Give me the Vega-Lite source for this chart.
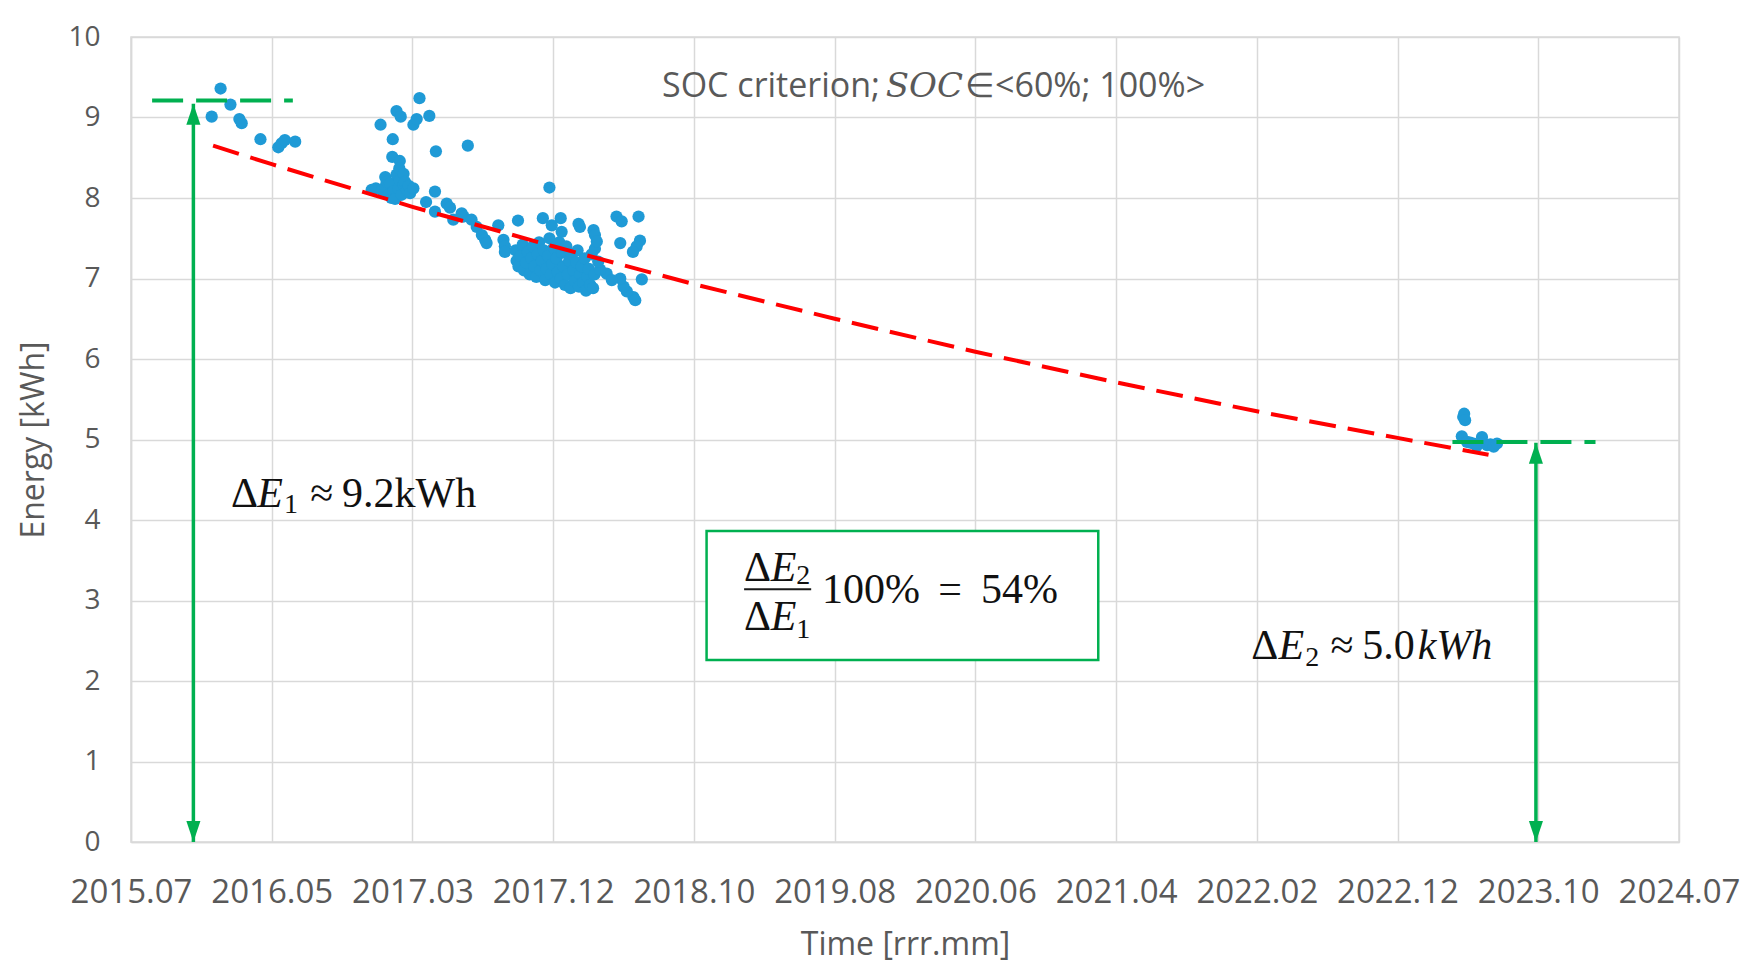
{
  "$schema": "https://vega.github.io/schema/vega-lite/v6.json",
  "width": 1548,
  "height": 805,
  "autosize": "none",
  "padding": {"left": 131, "top": 37, "right": 79, "bottom": 134},
  "background": "white",
  "config": {
    "font": "Open Sans",
    "view": {"stroke": "#d9d9d9", "strokeWidth": 1.5}
  },
  "datasets": {
    "measurements": [
      {"date": "2016-01-03", "energy": 9.01}, {"date": "2016-01-22", "energy": 9.36}, {"date": "2016-02-12", "energy": 9.16},
      {"date": "2016-03-02", "energy": 8.98}, {"date": "2016-03-07", "energy": 8.93}, {"date": "2016-04-16", "energy": 8.73},
      {"date": "2016-05-24", "energy": 8.63}, {"date": "2016-05-31", "energy": 8.68}, {"date": "2016-06-07", "energy": 8.72},
      {"date": "2016-06-29", "energy": 8.70},
      {"date": "2016-12-28", "energy": 8.91}, {"date": "2017-01-22", "energy": 8.51}, {"date": "2017-01-23", "energy": 8.73},
      {"date": "2017-01-31", "energy": 9.08}, {"date": "2017-02-07", "energy": 8.46}, {"date": "2017-02-09", "energy": 9.01},
      {"date": "2017-03-08", "energy": 8.91}, {"date": "2017-03-15", "energy": 8.98}, {"date": "2017-03-21", "energy": 9.24},
      {"date": "2017-04-11", "energy": 9.02}, {"date": "2017-04-25", "energy": 8.58}, {"date": "2017-07-02", "energy": 8.65},
      {"date": "2016-12-09", "energy": 8.10}, {"date": "2016-12-18", "energy": 8.12}, {"date": "2016-12-31", "energy": 8.10},
      {"date": "2017-01-07", "energy": 8.26}, {"date": "2017-01-07", "energy": 8.14}, {"date": "2017-01-10", "energy": 8.20},
      {"date": "2017-01-14", "energy": 8.04}, {"date": "2017-01-17", "energy": 8.18}, {"date": "2017-01-20", "energy": 8.00},
      {"date": "2017-01-24", "energy": 8.08}, {"date": "2017-01-28", "energy": 7.99}, {"date": "2017-01-31", "energy": 8.29},
      {"date": "2017-02-04", "energy": 8.12}, {"date": "2017-02-06", "energy": 8.37}, {"date": "2017-02-07", "energy": 8.22},
      {"date": "2017-02-11", "energy": 8.04}, {"date": "2017-02-15", "energy": 8.16}, {"date": "2017-02-15", "energy": 8.30},
      {"date": "2017-02-18", "energy": 8.20}, {"date": "2017-02-22", "energy": 8.10}, {"date": "2017-02-26", "energy": 8.15},
      {"date": "2017-03-01", "energy": 8.06}, {"date": "2017-03-08", "energy": 8.12},
      {"date": "2017-04-04", "energy": 7.95}, {"date": "2017-04-23", "energy": 8.08}, {"date": "2017-04-23", "energy": 7.83},
      {"date": "2017-05-18", "energy": 7.93}, {"date": "2017-05-25", "energy": 7.88}, {"date": "2017-06-01", "energy": 7.73},
      {"date": "2017-06-19", "energy": 7.81}, {"date": "2017-06-23", "energy": 7.77}, {"date": "2017-07-10", "energy": 7.73},
      {"date": "2017-07-21", "energy": 7.64}, {"date": "2017-08-01", "energy": 7.54}, {"date": "2017-08-08", "energy": 7.48},
      {"date": "2017-08-11", "energy": 7.44}, {"date": "2017-09-05", "energy": 7.66}, {"date": "2017-09-16", "energy": 7.48},
      {"date": "2017-09-19", "energy": 7.40}, {"date": "2017-09-19", "energy": 7.33}, {"date": "2017-10-17", "energy": 7.72},
      {"date": "2017-10-12", "energy": 7.35}, {"date": "2017-10-14", "energy": 7.22}, {"date": "2017-10-18", "energy": 7.15},
      {"date": "2017-10-22", "energy": 7.28}, {"date": "2017-10-27", "energy": 7.42}, {"date": "2017-10-30", "energy": 7.10},
      {"date": "2017-11-03", "energy": 7.20}, {"date": "2017-11-07", "energy": 7.33}, {"date": "2017-11-11", "energy": 7.05},
      {"date": "2017-11-14", "energy": 7.25}, {"date": "2017-11-18", "energy": 7.40}, {"date": "2017-11-21", "energy": 7.15},
      {"date": "2017-11-25", "energy": 7.02}, {"date": "2017-11-28", "energy": 7.30}, {"date": "2017-12-01", "energy": 7.45},
      {"date": "2017-12-04", "energy": 7.10}, {"date": "2017-12-07", "energy": 7.22}, {"date": "2017-12-11", "energy": 7.35},
      {"date": "2017-12-14", "energy": 6.98}, {"date": "2017-12-17", "energy": 7.12}, {"date": "2017-12-20", "energy": 7.28},
      {"date": "2017-12-23", "energy": 7.50}, {"date": "2017-12-26", "energy": 7.05}, {"date": "2017-12-29", "energy": 7.18},
      {"date": "2018-01-01", "energy": 7.38}, {"date": "2018-01-04", "energy": 6.95}, {"date": "2018-01-07", "energy": 7.25},
      {"date": "2018-01-10", "energy": 7.08}, {"date": "2018-01-13", "energy": 7.45}, {"date": "2018-01-16", "energy": 7.00},
      {"date": "2018-01-19", "energy": 7.32}, {"date": "2018-01-22", "energy": 7.15}, {"date": "2018-01-25", "energy": 6.92},
      {"date": "2018-01-28", "energy": 7.40}, {"date": "2018-01-31", "energy": 7.05}, {"date": "2018-02-03", "energy": 7.22},
      {"date": "2018-02-06", "energy": 6.88}, {"date": "2018-02-09", "energy": 7.30}, {"date": "2018-02-12", "energy": 7.10},
      {"date": "2018-02-15", "energy": 6.97}, {"date": "2018-02-18", "energy": 7.20}, {"date": "2018-02-21", "energy": 7.35},
      {"date": "2018-02-24", "energy": 6.90}, {"date": "2018-02-27", "energy": 7.05}, {"date": "2018-03-02", "energy": 7.15},
      {"date": "2018-03-05", "energy": 6.95}, {"date": "2018-03-08", "energy": 7.25}, {"date": "2018-03-11", "energy": 6.85},
      {"date": "2018-03-14", "energy": 7.02}, {"date": "2018-03-17", "energy": 7.12}, {"date": "2018-03-20", "energy": 6.92},
      {"date": "2018-03-23", "energy": 7.30}, {"date": "2018-03-26", "energy": 6.88}, {"date": "2018-03-29", "energy": 7.05},
      {"date": "2017-12-09", "energy": 7.75}, {"date": "2018-01-16", "energy": 7.75}, {"date": "2017-12-28", "energy": 7.66},
      {"date": "2018-01-18", "energy": 7.58}, {"date": "2018-02-23", "energy": 7.68}, {"date": "2018-02-26", "energy": 7.64},
      {"date": "2018-03-27", "energy": 7.60}, {"date": "2018-03-30", "energy": 7.54}, {"date": "2018-05-15", "energy": 7.77},
      {"date": "2018-05-26", "energy": 7.71}, {"date": "2018-07-01", "energy": 7.77}, {"date": "2018-05-23", "energy": 7.44},
      {"date": "2018-07-04", "energy": 7.47}, {"date": "2018-06-27", "energy": 7.40}, {"date": "2018-06-19", "energy": 7.33},
      {"date": "2018-07-08", "energy": 6.99}, {"date": "2018-06-20", "energy": 6.77}, {"date": "2018-06-24", "energy": 6.73},
      {"date": "2018-06-06", "energy": 6.84}, {"date": "2018-05-30", "energy": 6.90}, {"date": "2018-05-23", "energy": 7.00},
      {"date": "2018-04-24", "energy": 7.06}, {"date": "2018-05-05", "energy": 6.98}, {"date": "2018-04-10", "energy": 7.11},
      {"date": "2018-04-06", "energy": 7.21}, {"date": "2018-03-30", "energy": 7.37}, {"date": "2018-04-03", "energy": 7.46},
      {"date": "2017-12-23", "energy": 8.13},
      {"date": "2023-04-21", "energy": 5.04}, {"date": "2023-04-24", "energy": 5.28}, {"date": "2023-04-26", "energy": 5.32},
      {"date": "2023-04-28", "energy": 5.24}, {"date": "2023-05-02", "energy": 4.97}, {"date": "2023-05-09", "energy": 4.96},
      {"date": "2023-05-16", "energy": 4.95}, {"date": "2023-05-23", "energy": 4.92}, {"date": "2023-06-03", "energy": 5.03},
      {"date": "2023-06-14", "energy": 4.93}, {"date": "2023-06-21", "energy": 4.94}, {"date": "2023-06-28", "energy": 4.91},
      {"date": "2023-07-05", "energy": 4.95}
    ],
    "trend": [
      {"date": "2016-01-06", "energy": 8.65}, {"date": "2016-05-10", "energy": 8.42}, {"date": "2017-03-06", "energy": 7.89},
      {"date": "2017-12-31", "energy": 7.40}, {"date": "2018-10-27", "energy": 6.93}, {"date": "2019-08-23", "energy": 6.50},
      {"date": "2020-06-18", "energy": 6.09}, {"date": "2021-04-14", "energy": 5.71}, {"date": "2022-02-08", "energy": 5.35},
      {"date": "2022-12-05", "energy": 5.02}, {"date": "2023-06-17", "energy": 4.81}
    ],
    "levels": [
      {"start": "2015-08-29", "end": "2016-06-24", "energy": 9.21},
      {"start": "2023-04-01", "end": "2024-01-31", "energy": 4.97}
    ],
    "arrows": [
      {"date": "2015-11-25", "from": 0, "to": 9.17},
      {"date": "2023-09-26", "from": 0, "to": 4.96}
    ],
    "box": [
      {"start": "2018-11-23", "end": "2021-03-07", "top": 3.863, "bottom": 2.261}
    ],
    "fraction": [
      {"start": "2019-02-11", "end": "2019-07-04", "energy": 3.139}
    ],
    "notes": [
      {"part": "caption", "text": "SOC criterion;", "date": "2018-08-20", "energy": 9.25},
      {"part": "captionItalic", "text": "SOC", "date": "2019-12-10", "energy": 9.25},
      {"part": "caption", "text": "∈<60%; 100%>", "date": "2020-05-27", "energy": 9.25},
      {"part": "math", "text": "Δ", "date": "2016-02-13", "energy": 4.165},
      {"part": "mathItalic", "text": "E", "date": "2016-04-09", "energy": 4.165},
      {"part": "sub", "text": "1", "date": "2016-06-05", "energy": 4.087},
      {"part": "math", "text": "≈", "date": "2016-07-31", "energy": 4.165},
      {"part": "math", "text": "9.2kWh", "date": "2016-10-07", "energy": 4.165},
      {"part": "math", "text": "Δ", "date": "2022-01-27", "energy": 2.277},
      {"part": "mathItalic", "text": "E", "date": "2022-03-26", "energy": 2.277},
      {"part": "sub", "text": "2", "date": "2022-05-22", "energy": 2.19},
      {"part": "math", "text": "≈", "date": "2022-07-15", "energy": 2.277},
      {"part": "math", "text": "5.0", "date": "2022-09-21", "energy": 2.277},
      {"part": "mathItalic", "text": "kWh", "date": "2023-01-17", "energy": 2.277},
      {"part": "math", "text": "Δ", "date": "2019-02-11", "energy": 3.242},
      {"part": "mathItalic", "text": "E", "date": "2019-04-09", "energy": 3.242},
      {"part": "sub", "text": "2", "date": "2019-06-02", "energy": 3.21},
      {"part": "math", "text": "Δ", "date": "2019-02-11", "energy": 2.634},
      {"part": "mathItalic", "text": "E", "date": "2019-04-09", "energy": 2.634},
      {"part": "sub", "text": "1", "date": "2019-06-02", "energy": 2.53},
      {"part": "math", "text": "100%", "date": "2019-07-27", "energy": 2.965},
      {"part": "math", "text": "=", "date": "2020-03-31", "energy": 2.965},
      {"part": "math", "text": "54%", "date": "2020-06-30", "energy": 2.965}
    ]
  },
  "layer": [
    {
      "data": {"name": "box"},
      "mark": {"type": "rect", "fill": "white", "stroke": "#00b050", "strokeWidth": 2.5},
      "encoding": {
        "x": {
          "field": "start",
          "type": "temporal",
          "title": "Time [rrr.mm]",
          "scale": {
            "type": "utc",
            "nice": false,
            "domain": [
              {"year": 2015, "month": 7, "date": 15, "utc": true},
              {"year": 2024, "month": 7, "date": 27, "utc": true}
            ]
          },
          "axis": {
            "format": "%Y.%m",
            "values": [
              {"year": 2015, "month": 7, "date": 15, "utc": true},
              {"year": 2016, "month": 5, "date": 10, "utc": true},
              {"year": 2017, "month": 3, "date": 6, "utc": true},
              {"year": 2017, "month": 12, "date": 31, "utc": true},
              {"year": 2018, "month": 10, "date": 27, "utc": true},
              {"year": 2019, "month": 8, "date": 23, "utc": true},
              {"year": 2020, "month": 6, "date": 18, "utc": true},
              {"year": 2021, "month": 4, "date": 14, "utc": true},
              {"year": 2022, "month": 2, "date": 8, "utc": true},
              {"year": 2022, "month": 12, "date": 5, "utc": true},
              {"year": 2023, "month": 10, "date": 1, "utc": true},
              {"year": 2024, "month": 7, "date": 27, "utc": true}
            ],
            "grid": true,
            "gridColor": "#d9d9d9",
            "gridWidth": 1.5,
            "domainColor": "#d9d9d9",
            "domainWidth": 1.5,
            "ticks": false,
            "tickSize": 0,
            "labelFont": "Open Sans",
            "labelFontSize": 33,
            "labelColor": "#595959",
            "labelPadding": 34,
            "labelFlush": false,
            "labelOverlap": false,
            "titleFont": "Open Sans",
            "titleFontSize": 32,
            "titleFontWeight": "normal",
            "titleColor": "#595959",
            "titlePadding": 20
          }
        },
        "x2": {"field": "end"},
        "y": {
          "field": "top",
          "type": "quantitative",
          "title": "Energy [kWh]",
          "scale": {"domain": [0, 10], "nice": false, "zero": true},
          "axis": {
            "values": [0, 1, 2, 3, 4, 5, 6, 7, 8, 9, 10],
            "format": "d",
            "grid": true,
            "gridColor": "#d9d9d9",
            "gridWidth": 1.5,
            "domainColor": "#d9d9d9",
            "domainWidth": 1.5,
            "ticks": false,
            "tickSize": 0,
            "labelFont": "Open Sans",
            "labelFontSize": 28,
            "labelColor": "#595959",
            "labelPadding": 31,
            "titleFont": "Open Sans",
            "titleFontSize": 32,
            "titleFontWeight": "normal",
            "titleColor": "#595959",
            "titlePadding": 17
          }
        },
        "y2": {"field": "bottom"}
      }
    },
    {
      "data": {"name": "measurements"},
      "mark": {"type": "circle", "color": "#1f9ad6", "opacity": 1, "size": 150},
      "encoding": {
        "x": {"field": "date", "type": "temporal", "title": "Time [rrr.mm]"},
        "y": {"field": "energy", "type": "quantitative", "title": "Energy [kWh]"}
      }
    },
    {
      "data": {"name": "trend"},
      "mark": {"type": "line", "color": "#ff0000", "strokeWidth": 4, "strokeDash": [27, 12]},
      "encoding": {
        "x": {"field": "date", "type": "temporal", "title": "Time [rrr.mm]"},
        "y": {"field": "energy", "type": "quantitative", "title": "Energy [kWh]"}
      }
    },
    {
      "data": {"name": "levels"},
      "mark": {"type": "rule", "color": "#00b050", "strokeWidth": 4, "strokeDash": [31, 13]},
      "encoding": {
        "x": {"field": "start", "type": "temporal", "title": "Time [rrr.mm]"},
        "x2": {"field": "end"},
        "y": {"field": "energy", "type": "quantitative", "title": "Energy [kWh]"}
      }
    },
    {
      "data": {"name": "arrows"},
      "mark": {"type": "rule", "color": "#00b050", "strokeWidth": 3.5},
      "encoding": {
        "x": {"field": "date", "type": "temporal", "title": "Time [rrr.mm]"},
        "y": {"field": "from", "type": "quantitative", "title": "Energy [kWh]"},
        "y2": {"field": "to"}
      }
    },
    {
      "data": {"name": "arrows"},
      "mark": {"type": "point", "shape": "M0,0L0.67,2L-0.67,2Z", "filled": true, "color": "#00b050", "opacity": 1, "size": 441, "strokeWidth": 0},
      "encoding": {
        "x": {"field": "date", "type": "temporal", "title": "Time [rrr.mm]"},
        "y": {"field": "to", "type": "quantitative", "title": "Energy [kWh]"}
      }
    },
    {
      "data": {"name": "arrows"},
      "mark": {"type": "point", "shape": "M0,0L0.67,-2L-0.67,-2Z", "filled": true, "color": "#00b050", "opacity": 1, "size": 441, "strokeWidth": 0},
      "encoding": {
        "x": {"field": "date", "type": "temporal", "title": "Time [rrr.mm]"},
        "y": {"field": "from", "type": "quantitative", "title": "Energy [kWh]"}
      }
    },
    {
      "data": {"name": "fraction"},
      "mark": {"type": "rule", "color": "#1a1a1a", "strokeWidth": 2},
      "encoding": {
        "x": {"field": "start", "type": "temporal", "title": "Time [rrr.mm]"},
        "x2": {"field": "end"},
        "y": {"field": "energy", "type": "quantitative", "title": "Energy [kWh]"}
      }
    },
    {
      "data": {"name": "notes"},
      "transform": [{"filter": "datum.part == 'caption'"}],
      "mark": {"type": "text", "align": "left", "baseline": "alphabetic", "font": "Open Sans", "fontSize": 34, "color": "#595959"},
      "encoding": {
        "x": {"field": "date", "type": "temporal", "title": "Time [rrr.mm]"},
        "y": {"field": "energy", "type": "quantitative", "title": "Energy [kWh]"},
        "text": {"field": "text"}
      }
    },
    {
      "data": {"name": "notes"},
      "transform": [{"filter": "datum.part == 'captionItalic'"}],
      "mark": {"type": "text", "align": "left", "baseline": "alphabetic", "font": "DejaVu Serif", "fontStyle": "italic", "fontSize": 34, "color": "#595959"},
      "encoding": {
        "x": {"field": "date", "type": "temporal", "title": "Time [rrr.mm]"},
        "y": {"field": "energy", "type": "quantitative", "title": "Energy [kWh]"},
        "text": {"field": "text"}
      }
    },
    {
      "data": {"name": "notes"},
      "transform": [{"filter": "datum.part == 'math'"}],
      "mark": {"type": "text", "align": "left", "baseline": "alphabetic", "font": "Liberation Serif", "fontSize": 42, "color": "#111111"},
      "encoding": {
        "x": {"field": "date", "type": "temporal", "title": "Time [rrr.mm]"},
        "y": {"field": "energy", "type": "quantitative", "title": "Energy [kWh]"},
        "text": {"field": "text"}
      }
    },
    {
      "data": {"name": "notes"},
      "transform": [{"filter": "datum.part == 'mathItalic'"}],
      "mark": {"type": "text", "align": "left", "baseline": "alphabetic", "font": "Liberation Serif", "fontStyle": "italic", "fontSize": 42, "color": "#111111"},
      "encoding": {
        "x": {"field": "date", "type": "temporal", "title": "Time [rrr.mm]"},
        "y": {"field": "energy", "type": "quantitative", "title": "Energy [kWh]"},
        "text": {"field": "text"}
      }
    },
    {
      "data": {"name": "notes"},
      "transform": [{"filter": "datum.part == 'sub'"}],
      "mark": {"type": "text", "align": "left", "baseline": "alphabetic", "font": "Liberation Serif", "fontSize": 28, "color": "#111111"},
      "encoding": {
        "x": {"field": "date", "type": "temporal", "title": "Time [rrr.mm]"},
        "y": {"field": "energy", "type": "quantitative", "title": "Energy [kWh]"},
        "text": {"field": "text"}
      }
    }
  ]
}
